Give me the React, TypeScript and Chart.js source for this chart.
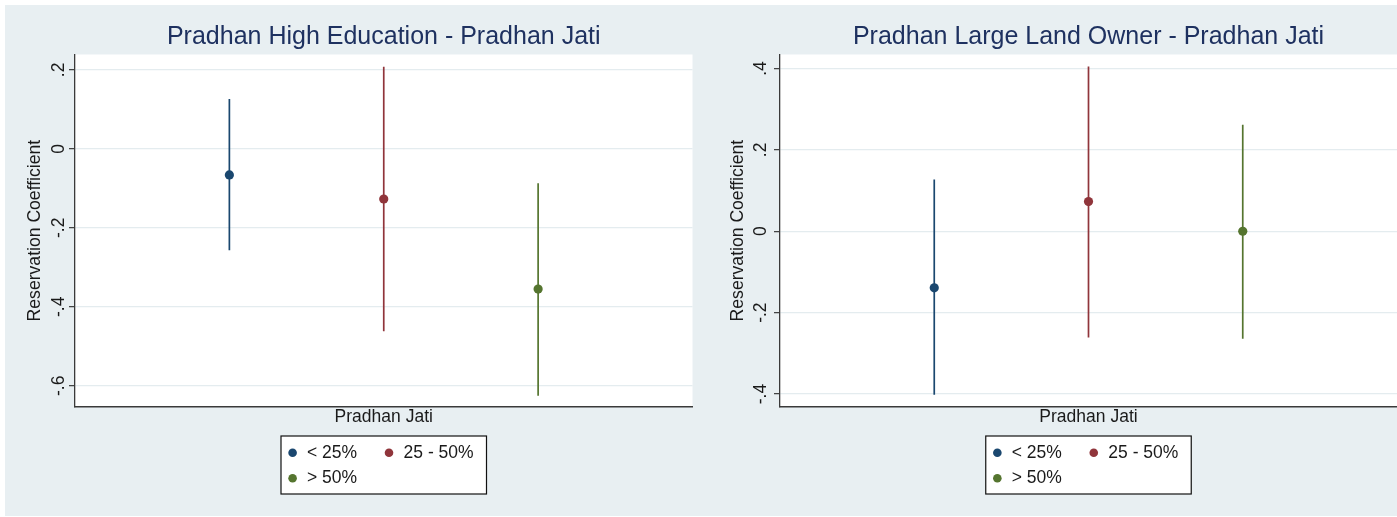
import React, { useEffect, useRef } from "react";
import { Chart, registerables } from "chart.js";

Chart.register(...registerables);

const FONT = '"Liberation Sans", Arial, Helvetica, sans-serif';

// ---- data ----
const groups = ["< 25%", "25 - 50%", "> 50%"];
const groupPositions = [1, 2, 3];
const groupColors = ["#1a476f", "#90353b", "#55752f"];

const eduTitle = "Pradhan High Education - Pradhan Jati";
const eduEstimate = [-0.066, -0.127, -0.355];
const eduLower = [-0.257, -0.462, -0.625];
const eduUpper = [0.126, 0.208, -0.087];
const eduTicks = [0.2, 0, -0.2, -0.4, -0.6];
const eduTickLabels = [".2", "0", "-.2", "-.4", "-.6"];

const landTitle = "Pradhan Large Land Owner - Pradhan Jati";
const landEstimate = [-0.139, 0.073, 0.0];
const landLower = [-0.402, -0.261, -0.264];
const landUpper = [0.127, 0.405, 0.262];
const landTicks = [0.4, 0.2, 0, -0.2, -0.4];
const landTickLabels = [".4", ".2", "0", "-.2", "-.4"];

const yAxisTitle = "Reservation Coefficient";
const xAxisTitle = "Pradhan Jati";

const CANVAS_H = 511;

const panelDecor = {
  id: "panelDecor",
  beforeDraw(chart: any) {
    const { ctx, chartArea: a } = chart;
    ctx.save();
    ctx.fillStyle = "#ffffff";
    ctx.fillRect(a.left, a.top, a.right - a.left, a.bottom - a.top);
    ctx.restore();
  },
  afterDraw(chart: any, _args: any, opts: any) {
    const { ctx, chartArea: a } = chart;
    const yScale = chart.scales.y;
    ctx.save();
    // rotated y tick labels
    ctx.fillStyle = "#1a1a1a";
    ctx.font = `17.5px ${FONT}`;
    ctx.textAlign = "center";
    ctx.textBaseline = "alphabetic";
    (opts.tickValues as number[]).forEach((v, i) => {
      const py = yScale.getPixelForValue(v);
      ctx.save();
      ctx.translate(a.left - opts.labelGap, py);
      ctx.rotate(-Math.PI / 2);
      ctx.fillText(opts.tickLabels[i], 0, 0);
      ctx.restore();
    });

    // legend box
    const w = 205.5;
    const h = 58;
    const lx = (a.left + a.right) / 2 - w / 2;
    const ly = a.bottom + 29.3;
    ctx.fillStyle = "#ffffff";
    ctx.fillRect(lx, ly, w, h);
    ctx.strokeStyle = "#111111";
    ctx.lineWidth = 1.2;
    ctx.strokeRect(lx, ly, w, h);
    const items = chart.data.datasets.filter((d: any) => d.isEstimate);
    const cols = [
      { dot: 11.6, text: 26 },
      { dot: 108, text: 122.6 },
    ];
    const rows = [16.7, 42.3];
    ctx.textAlign = "left";
    ctx.textBaseline = "middle";
    items.forEach((d: any, i: number) => {
      const c = cols[i % 2];
      const r = rows[Math.floor(i / 2)];
      ctx.beginPath();
      ctx.fillStyle = d.pointBackgroundColor;
      ctx.arc(lx + c.dot, ly + r, 4.3, 0, Math.PI * 2);
      ctx.fill();
      ctx.fillStyle = "#1a1a1a";
      ctx.fillText(d.label, lx + c.text, ly + r);
    });
    ctx.restore();
  },
};

type PanelParams = {
  title: string;
  estimate: number[];
  lower: number[];
  upper: number[];
  ticks: number[];
  tickLabels: string[];
  yMin: number;
  yMax: number;
  axisWidth: number;
  padRight: number;
  yTitlePad: number;
  labelGap: number;
};

function buildConfig(p: PanelParams): any {
  const estimateSets = groups.map((g, i) => ({
    type: "scatter",
    label: g,
    isEstimate: true,
    data: [{ x: groupPositions[i], y: p.estimate[i] }],
    pointRadius: 4.6,
    pointBackgroundColor: groupColors[i],
    pointBorderWidth: 0,
    pointHoverRadius: 4.6,
    order: 1,
  }));
  const ciSets = groups.map((g, i) => ({
    type: "line",
    label: g + " CI",
    data: [
      { x: groupPositions[i], y: p.lower[i] },
      { x: groupPositions[i], y: p.upper[i] },
    ],
    borderColor: groupColors[i],
    borderWidth: 1.7,
    pointRadius: 0,
    pointHoverRadius: 0,
    fill: false,
    order: 2,
  }));
  return {
    type: "scatter",
    data: { datasets: [...estimateSets, ...ciSets] },
    options: {
      responsive: false,
      maintainAspectRatio: false,
      animation: false,
      events: [],
      layout: { autoPadding: false, padding: { left: 0, right: p.padRight, top: 0, bottom: 0 } },
      plugins: {
        legend: { display: false },
        tooltip: { enabled: false },
        title: {
          display: true,
          text: p.title,
          color: "#1e3160",
          fullSize: false,
          font: { family: FONT, size: 25, weight: "normal", lineHeight: 1.2 },
          padding: { top: 17, bottom: 2.5 },
        },
        panelDecor: {
          tickValues: p.ticks,
          tickLabels: p.tickLabels,
          labelGap: p.labelGap,
        },
      },
      scales: {
        x: {
          type: "linear",
          position: "bottom",
          min: 0,
          max: 4,
          grid: { display: false },
          ticks: { display: false },
          border: { display: true, color: "#3a3a3a", width: 1.5 },
          title: {
            display: true,
            text: xAxisTitle,
            color: "#1a1a1a",
            font: { family: FONT, size: 17.5, lineHeight: 1.2 },
            padding: { top: 0, bottom: 88.5 },
          },
          afterFit: (axis: any) => {
            axis.height = 109.3;
          },
        },
        y: {
          type: "linear",
          position: "left",
          min: p.yMin,
          max: p.yMax,
          afterBuildTicks: (axis: any) => {
            axis.ticks = p.ticks.map((v) => ({ value: v }));
          },
          ticks: { display: false },
          grid: {
            color: "#e4ecef",
            lineWidth: 1.3,
            drawTicks: true,
            tickLength: 6,
            tickColor: "#3a3a3a",
            tickWidth: 1.2,
          },
          border: { display: true, color: "#3a3a3a", width: 1.3 },
          title: {
            display: true,
            text: yAxisTitle,
            color: "#1a1a1a",
            font: { family: FONT, size: 17.6, lineHeight: 1.2 },
            padding: { top: p.yTitlePad, bottom: 0 },
          },
          afterFit: (axis: any) => {
            axis.width = p.axisWidth;
          },
        },
      },
    },
    plugins: [panelDecor],
  };
}

function Panel({ params, left, width }: { params: PanelParams; left: number; width: number }) {
  const ref = useRef<HTMLCanvasElement>(null);
  useEffect(() => {
    const chart = new Chart(ref.current as HTMLCanvasElement, buildConfig(params));
    return () => chart.destroy();
  }, []);
  return (
    <div style={{ position: "absolute", left, top: 5, width, height: CANVAS_H }}>
      <canvas
        ref={ref}
        width={width}
        height={CANVAS_H}
        style={{ width, height: CANVAS_H, display: "block" }}
      />
    </div>
  );
}

const eduParams: PanelParams = {
  title: eduTitle,
  estimate: eduEstimate,
  lower: eduLower,
  upper: eduUpper,
  ticks: eduTicks,
  tickLabels: eduTickLabels,
  yMin: -0.653,
  yMax: 0.239,
  axisWidth: 70,
  padRight: 7.5,
  yTitlePad: 19.2,
  labelGap: 11.25,
};

const landParams: PanelParams = {
  title: landTitle,
  estimate: landEstimate,
  lower: landLower,
  upper: landUpper,
  ticks: landTicks,
  tickLabels: landTickLabels,
  yMin: -0.4312,
  yMax: 0.4344,
  axisWidth: 80,
  padRight: 0,
  yTitlePad: 27.7,
  labelGap: 13.75,
};

export default function App() {
  return (
    <div
      style={{
        position: "fixed",
        left: 0,
        top: 0,
        width: 1397,
        height: 517,
        background: "#ffffff",
        overflow: "hidden",
      }}
    >
      <div
        style={{
          position: "absolute",
          left: 5,
          top: 5,
          width: 1392,
          height: 511,
          background: "#e8eff2",
        }}
      />
      <Panel params={eduParams} left={5} width={695} />
      <Panel params={landParams} left={700} width={697} />
    </div>
  );
}
